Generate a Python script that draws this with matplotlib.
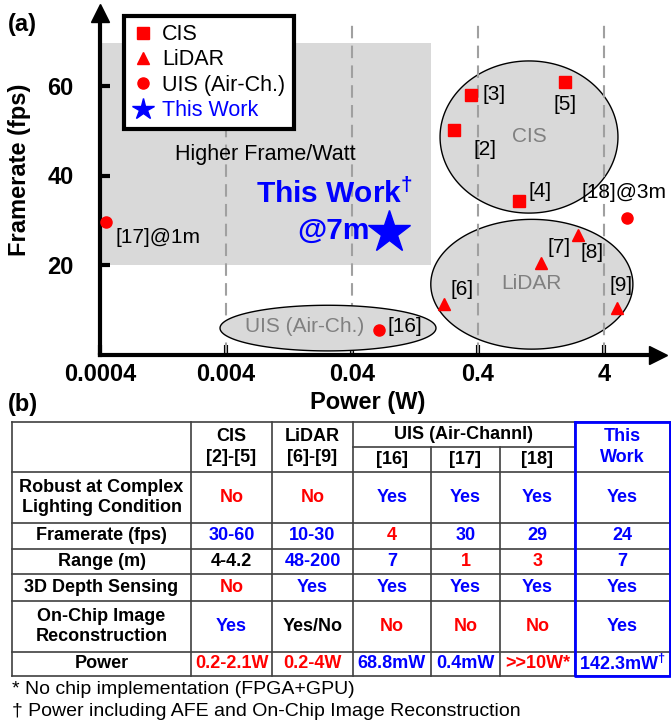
import numpy as np
import matplotlib.pyplot as plt
from matplotlib.lines import Line2D
from matplotlib.ticker import NullLocator

plt.rcParams['font.family'] = ['Liberation Sans', 'DejaVu Sans']
plt.rcParams['mathtext.fontset'] = 'custom'
plt.rcParams['mathtext.rm'] = 'Liberation Sans:bold'
plt.rcParams['mathtext.bf'] = 'Liberation Sans:bold'
plt.rcParams['mathtext.default'] = 'rm'

# power (W) vs framerate (fps) of the compared works
cis_power = [0.26, 0.35, 0.85, 1.97]
cis_fps = [50.2, 58.0, 34.3, 60.9]
cis_refs = ['[2]', '[3]', '[4]', '[5]']
lidar_power = [0.216, 1.26, 2.5, 5.04]
lidar_fps = [11.3, 20.5, 26.7, 10.3]
lidar_refs = ['[6]', '[7]', '[8]', '[9]']
uis_power = [0.065, 0.00045, 6.05]
uis_fps = [5.5, 29.5, 30.6]
uis_refs = ['[16]', '[17]@1m', '[18]@3m']
this_power = 0.079
this_fps = 27.4

xticks = [0.0004, 0.004, 0.04, 0.4, 4]
xticklabels = ['0.0004', '0.004', '0.04', '0.4', '4']
yticks = [20, 40, 60]

# comparison table
col_heads = ['CIS\n[2]-[5]', 'LiDAR\n[6]-[9]', '[16]', '[17]', '[18]', 'This\nWork']
row_labels = ['Robust at Complex\nLighting Condition', 'Framerate (fps)', 'Range (m)',
              '3D Depth Sensing', 'On-Chip Image\nReconstruction', 'Power']
cells = [
    ['No', 'No', 'Yes', 'Yes', 'Yes', 'Yes'],
    ['30-60', '10-30', '4', '30', '29', '24'],
    ['4-4.2', '48-200', '7', '1', '3', '7'],
    ['No', 'Yes', 'Yes', 'Yes', 'Yes', 'Yes'],
    ['Yes', 'Yes/No', 'No', 'No', 'No', 'Yes'],
    ['0.2-2.1W', '0.2-4W', '68.8mW', '0.4mW', '>>10W*', '142.3mW$^{\u2020}$'],
]
cell_colors = ['rrbbbb', 'bbrbbb', 'kbbrrb', 'rbbbbb', 'bkrrrb', 'rrbbrb']
notes = ['* No chip implementation (FPGA+GPU)',
         '\u2020 Power including AFE and On-Chip Image Reconstruction']

RED = '#ff0000'
BLUE = '#0000ff'
GRAY = '#d9d9d9'
cmap = {'r': RED, 'b': BLUE, 'k': 'black'}

W, H = 671, 721
fig = plt.figure(figsize=(W / 100, H / 100), dpi=100)

# ---------------- (a) scatter ----------------
x0, x1, y0, y1 = 100, 658, 354.5, 13
ax = fig.add_axes([x0 / W, 1 - y0 / H, (x1 - x0) / W, (y0 - y1) / H])
ax.set_xscale('log')
px_per_dec = 126.0
px_per_fps = 4.475
ax.set_xlim(0.0004, 0.0004 * 10 ** ((x1 - x0) / px_per_dec))
ax.set_ylim(0, (y0 - y1) / px_per_fps)
ax.patch.set_visible(False)

for s in ['top', 'right']:
    ax.spines[s].set_visible(False)
for s in ['left', 'bottom']:
    ax.spines[s].set_linewidth(3)
ax.plot(1, 0, '>k', ms=13, transform=ax.transAxes, clip_on=False)
ax.plot(0, 1, '^k', ms=13, transform=ax.transAxes, clip_on=False)

ax.set_xticks(xticks, xticklabels, fontsize=17, fontweight='bold')
ax.set_yticks(yticks, [str(v) for v in yticks], fontsize=17, fontweight='bold')
ax.xaxis.set_minor_locator(NullLocator())
ax.tick_params(direction='in', length=7, width=3)
ax.tick_params(axis='x', pad=6)
ax.tick_params(axis='y', pad=19)

# shaded "higher frame/watt" region
ax.fill_between([0.0004, 0.17], 20, 69.5, color=GRAY, lw=0, zorder=0.5)

# group ellipses, drawn in log-power space
def group_ellipse(pc, half_dec, fc, half_f, z):
    t = np.linspace(0, 2 * np.pi, 200)
    xs = 10 ** (np.log10(pc) + half_dec * np.cos(t))
    ys = fc + half_f * np.sin(t)
    ax.fill(xs, ys, facecolor=GRAY, edgecolor='black', lw=1, zorder=z)

group_ellipse(1.016, 0.706, 48.6, 17.0, 1)
group_ellipse(1.07, 0.802, 15.7, 14.5, 1)
group_ellipse(0.0258, 0.857, 5.9, 5.1, 2.5)

ax.vlines(xticks[1:], 0, 74.5, colors='#a0a0a0', linestyles=(0, (6, 3.5)), lw=1.5, zorder=2)

ax.text(1.016, 48.8, 'CIS', color='#808080', fontsize=15, ha='center', va='center', zorder=3)
ax.text(1.07, 15.8, 'LiDAR', color='#808080', fontsize=15, ha='center', va='center', zorder=3)
ax.text(0.0169, 6.2, 'UIS (Air-Ch.)', color='#808080', fontsize=15, ha='center', va='center', zorder=3)
ax.text(0.00816, 44.8, 'Higher Frame/Watt', fontsize=15.5, ha='center', va='center', zorder=3)

ax.plot(cis_power, cis_fps, 's', color=RED, ms=8, ls='', zorder=4)
ax.plot(lidar_power, lidar_fps, '^', color=RED, ms=9, ls='', zorder=4)
ax.plot(uis_power, uis_fps, 'o', color=RED, ms=8, ls='', zorder=4)
ax.plot(this_power, this_fps, '*', color=BLUE, ms=32, ls='', zorder=4)

# reference labels, offsets in pixels from each point
cis_off = [(31, -20), (23, 0), (21, 10), (0, -23)]
lidar_off = [(18, 14), (18, 15), (14, -17), (4, 23)]
uis_off = [(26, 3), (52, -15), (-3, 25)]
for pw, fr, refs, offs in [(cis_power, cis_fps, cis_refs, cis_off),
                           (lidar_power, lidar_fps, lidar_refs, lidar_off),
                           (uis_power, uis_fps, uis_refs, uis_off)]:
    for p, f, r, o in zip(pw, fr, refs, offs):
        ax.annotate(r, (p, f), xytext=o, textcoords='offset pixels', fontsize=15,
                    ha='center', va='center', zorder=5, annotation_clip=False)

ax.annotate('This Work$^{\u2020}$', (this_power, this_fps), xytext=(-55, 38),
            textcoords='offset pixels', fontsize=21.5, fontweight='bold', color=BLUE,
            ha='center', va='center', zorder=5)
ax.annotate('@7m', (this_power, this_fps), xytext=(-56, 1),
            textcoords='offset pixels', fontsize=21.5, fontweight='bold', color=BLUE,
            ha='center', va='center', zorder=5)

handles = [Line2D([], [], marker='s', color=RED, ls='', ms=8, label='CIS'),
           Line2D([], [], marker='^', color=RED, ls='', ms=9, label='LiDAR'),
           Line2D([], [], marker='o', color=RED, ls='', ms=8, label='UIS (Air-Ch.)'),
           Line2D([], [], marker='*', color=BLUE, ls='', ms=16, label='This Work')]
leg = fig.legend(handles=handles, loc='upper left', bbox_to_anchor=(124 / W, 1 - 16 / H),
                 fontsize=15.5, frameon=True, fancybox=False, edgecolor='black', framealpha=1,
                 borderpad=0.38, labelspacing=0.2, handlelength=1.0, handletextpad=0.4,
                 borderaxespad=0)
leg.get_frame().set_linewidth(3)
leg.get_texts()[3].set_color(BLUE)
leg.set_zorder(10)

# ---------------- page-level text and table ----------------
page = fig.add_axes([0, 0, 1, 1])
page.set_xlim(0, W)
page.set_ylim(H, 0)
page.axis('off')
page.patch.set_visible(False)

page.text(22, 25, '(a)', fontsize=17, fontweight='bold', ha='center', va='center')
page.text(23, 404, '(b)', fontsize=17, fontweight='bold', ha='center', va='center')
page.text(20, 170, 'Framerate (fps)', fontsize=17, fontweight='bold', rotation=90,
          ha='center', va='center')
page.text(368, 403, 'Power (W)', fontsize=17, fontweight='bold', ha='center', va='center')

col_edges = [12, 191, 272, 353, 431, 500, 575, 670]
row_edges = [422, 472, 523, 549, 574, 601, 652, 676]
sub_line = 447
lc = '#404040'
tlw = 1.2
tfs = 13

# horizontal rules
for y in row_edges:
    page.plot([col_edges[0], col_edges[-1]], [y, y], color=lc, lw=tlw)
page.plot([col_edges[3], col_edges[6]], [sub_line] * 2, color=lc, lw=tlw)
# vertical rules
for i, x in enumerate(col_edges):
    top = sub_line if i in (4, 5) else row_edges[0]
    page.plot([x, x], [top, row_edges[-1]], color=lc, lw=tlw)
# highlighted column
page.plot([col_edges[6], col_edges[7], col_edges[7], col_edges[6], col_edges[6]],
          [row_edges[0], row_edges[0], row_edges[-1], row_edges[-1], row_edges[0]],
          color=BLUE, lw=2, zorder=5)

# header
for j, h in enumerate(col_heads):
    cx = (col_edges[j + 1] + col_edges[j + 2]) / 2
    if j in (2, 3, 4):
        cy = (sub_line + row_edges[1]) / 2
        color = 'black'
    else:
        cy = (row_edges[0] + row_edges[1]) / 2
        color = BLUE if j == 5 else 'black'
    page.text(cx, cy, h, fontsize=tfs, fontweight='bold', color=color,
              ha='center', va='center', linespacing=1.3)
page.text((col_edges[3] + col_edges[6]) / 2, (row_edges[0] + sub_line) / 2, 'UIS (Air-Channl)',
          fontsize=tfs, fontweight='bold', ha='center', va='center')

# body
for i, lab in enumerate(row_labels):
    cy = (row_edges[i + 1] + row_edges[i + 2]) / 2
    page.text((col_edges[0] + col_edges[1]) / 2, cy, lab, fontsize=tfs, fontweight='bold',
              ha='center', va='center', linespacing=1.3)
    for j, val in enumerate(cells[i]):
        cx = (col_edges[j + 1] + col_edges[j + 2]) / 2
        page.text(cx, cy, val, fontsize=tfs, fontweight='bold', color=cmap[cell_colors[i][j]],
                  ha='center', va='center')

page.text(12, 689, notes[0], fontsize=14, ha='left', va='center')
page.text(12, 712, notes[1], fontsize=14, ha='left', va='center')

fig.savefig('out.png', dpi=100)
